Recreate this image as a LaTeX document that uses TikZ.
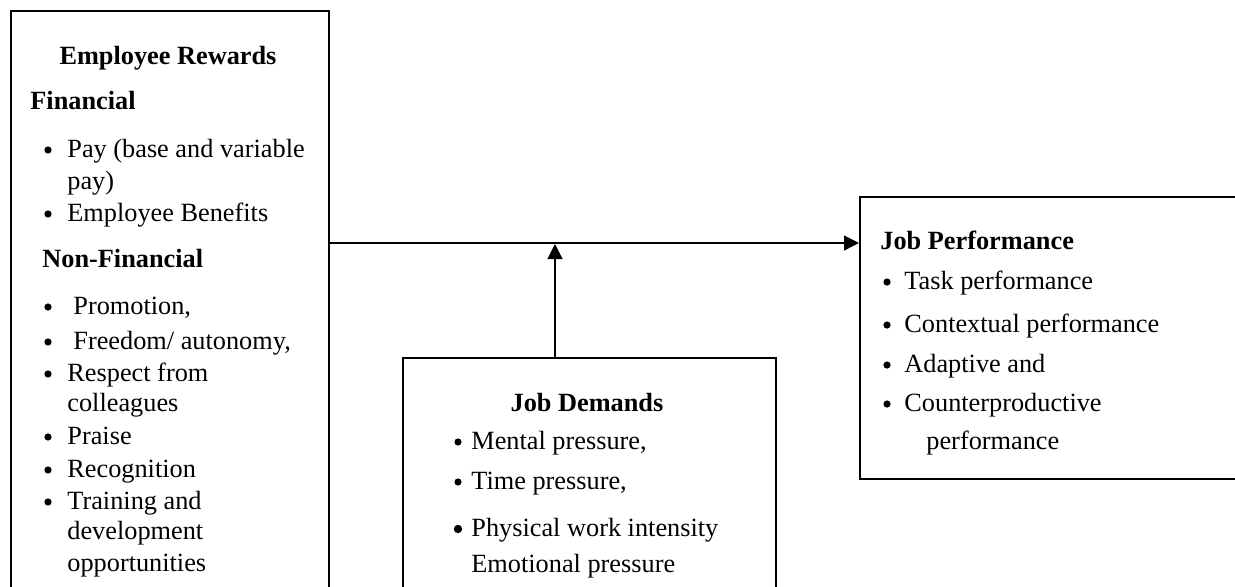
\documentclass[tikz,border=0pt]{standalone}
\usepackage{fontspec}
\setmainfont{Liberation Serif}
\usetikzlibrary{arrows.meta}
\begin{document}
\begin{tikzpicture}[x=0.5pt,y=-0.5pt,
  box/.style={draw,line width=0.9pt,inner sep=0pt,anchor=north west},
  txt/.style={inner sep=0pt,anchor=mid west,yshift=-2.5pt,font=\fontsize{13.15pt}{16pt}\selectfont},
  hd/.style={txt,font=\fontsize{13.15pt}{16pt}\selectfont\bfseries},
  bul/.style={circle,fill,inner sep=0pt,minimum size=3.6pt,yshift=-1pt},
  bigbul/.style={bul,minimum size=4.2pt},
  conn/.style={line width=0.6pt,-{Triangle[length=7.5pt,width=7.5pt]}}]
\useasboundingbox (0,0) rectangle (1235,586);
\clip (0,0) rectangle (1235,586);
% boxes
\node[box,minimum width=159pt,minimum height=305pt] (rew) at (10,10) {};
\node[box,minimum width=186.5pt,minimum height=150pt] (dem) at (402,357) {};
\node[box,minimum width=200pt,minimum height=141pt] (perf) at (859,196) {};
% left box text
\node[hd,anchor=mid] (t1) at (168,55) {Employee Rewards};
\node[hd] (t2) at (30,100) {Financial};
\node[bul] (b1) at (48,148) {};
\node[txt] (t3) at (67,148) {Pay (base and variable};
\node[txt] (t4) at (67,180) {pay)};
\node[bul] (b2) at (48,212) {};
\node[txt] (t5) at (67,212) {Employee Benefits};
\node[hd] (t6) at (42,258) {Non-Financial};
\node[bul] (b3) at (48,305) {};
\node[txt] (t7) at (73,305) {Promotion,};
\node[bul] (b4) at (48,340) {};
\node[txt] (t8) at (73,340) {Freedom/ autonomy,};
\node[bul] (b5) at (48,372) {};
\node[txt] (t9) at (67,372) {Respect from};
\node[txt] (t10) at (67,402) {colleagues};
\node[bul] (b6) at (48,435) {};
\node[txt] (t11) at (67,435) {Praise};
\node[bul] (b7) at (48,468) {};
\node[txt] (t12) at (67,468) {Recognition};
\node[bul] (b8) at (48,500) {};
\node[txt] (t13) at (67,500) {Training and};
\node[txt] (t14) at (67,530) {development};
\node[txt] (t15) at (67,562) {opportunities};
% middle box text
\node[hd,anchor=mid] (m1) at (587,402) {Job Demands};
\node[bul] (mb1) at (458,440) {};
\node[txt] (m2) at (471,440) {Mental pressure,};
\node[bul] (mb2) at (458,480) {};
\node[txt] (m3) at (471,480) {Time pressure,};
\node[bigbul] (mb3) at (458,527) {};
\node[txt] (m4) at (471,527) {Physical work intensity};
\node[txt] (m5) at (471,563) {Emotional pressure};
% right box text
\node[hd] (r1) at (880,240) {Job Performance};
\node[bul] (rb1) at (887,280) {};
\node[txt] (r2) at (904,280) {Task performance};
\node[bul] (rb2) at (887,323) {};
\node[txt] (r3) at (904,323) {Contextual performance};
\node[bul] (rb3) at (887,363) {};
\node[txt] (r4) at (904,363) {Adaptive and};
\node[bul] (rb4) at (887,402) {};
\node[txt] (r5) at (904,402) {Counterproductive};
\node[txt] (r6) at (926,440) {performance};
% connectors
\coordinate (hl) at (0,243);
\coordinate (va) at (555,0);
\draw[conn] (rew.east |- hl) -- (perf.west |- hl);
\coordinate (vt) at (555,244);
\draw[conn] (dem.north -| va) -- (vt);
\end{tikzpicture}
\end{document}
